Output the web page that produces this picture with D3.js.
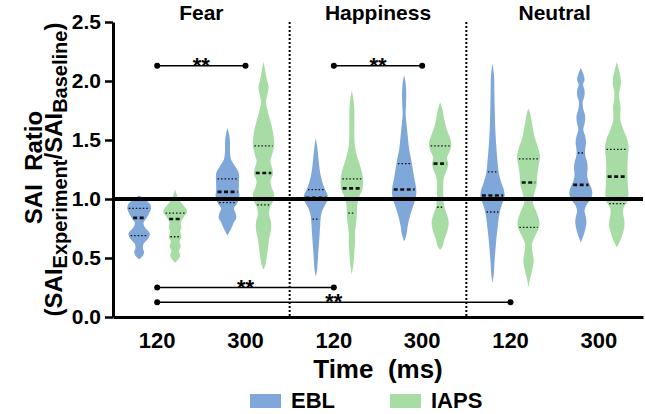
<!DOCTYPE html>
<html>
<head>
<meta charset="utf-8">
<script src="https://cdn.jsdelivr.net/npm/d3@7.9.0/dist/d3.min.js"></script>
<style>
  html, body { margin: 0; padding: 0; background: #fff; }
  svg text { font-family: "Liberation Sans", Arial, sans-serif; font-weight: bold; fill: #000; }
</style>
</head>
<body>
<svg id="chart" width="645" height="414"></svg>
<script>
const emotions = ['Fear', 'Happiness', 'Neutral'];
const times = ['120', '300'];
const series = ['EBL', 'IAPS'];
const yTicks = [0, 0.5, 1.0, 1.5, 2.0, 2.5];
const colors = ['#80a7d9', '#a7dca5'];

// violin outlines: [SAI ratio, relative half width]
const fear120EBL = [[1.03,0],[1.00,0.4],[0.96,0.85],[0.92,0.95],[0.88,0.8],[0.84,0.6],[0.80,0.35],[0.76,0.45],[0.71,0.85],[0.67,0.75],[0.62,0.35],[0.58,0.3],[0.55,0.4],[0.52,0.3],[0.49,0]];
const fear120IAPS = [[1.08,0],[1.04,0.12],[1.00,0.25],[0.96,0.55],[0.92,0.85],[0.89,0.95],[0.85,0.7],[0.80,0.45],[0.76,0.5],[0.72,0.4],[0.68,0.5],[0.64,0.35],[0.60,0.45],[0.56,0.3],[0.52,0.4],[0.49,0.25],[0.46,0]];
const fear300EBL = [[1.60,0],[1.55,0.12],[1.48,0.2],[1.40,0.2],[1.33,0.3],[1.28,0.6],[1.22,0.9],[1.15,0.92],[1.08,0.9],[1.02,0.95],[0.96,0.75],[0.92,0.5],[0.88,0.65],[0.84,0.7],[0.80,0.5],[0.75,0.3],[0.69,0]];
const fear300IAPS = [[2.16,0],[2.10,0.12],[2.02,0.25],[1.95,0.4],[1.88,0.3],[1.83,0.2],[1.76,0.3],[1.68,0.5],[1.60,0.7],[1.52,0.82],[1.45,0.85],[1.38,0.7],[1.32,0.55],[1.26,0.7],[1.21,0.75],[1.15,0.55],[1.10,0.65],[1.04,0.85],[0.98,0.75],[0.92,0.5],[0.87,0.45],[0.80,0.6],[0.74,0.6],[0.66,0.45],[0.58,0.35],[0.50,0.25],[0.44,0.15],[0.40,0]];
const happy120EBL = [[1.52,0],[1.45,0.1],[1.38,0.18],[1.30,0.25],[1.22,0.35],[1.15,0.5],[1.09,0.7],[1.04,0.92],[1.00,0.97],[0.96,0.8],[0.91,0.55],[0.85,0.4],[0.78,0.35],[0.70,0.3],[0.62,0.25],[0.55,0.2],[0.47,0.15],[0.40,0.1],[0.34,0]];
const happy120IAPS = [[1.92,0],[1.85,0.12],[1.75,0.2],[1.65,0.2],[1.55,0.2],[1.45,0.25],[1.37,0.4],[1.30,0.6],[1.22,0.82],[1.15,0.9],[1.08,0.85],[1.02,0.6],[0.96,0.45],[0.88,0.4],[0.80,0.35],[0.72,0.25],[0.62,0.25],[0.52,0.18],[0.44,0.12],[0.36,0]];
const happy300EBL = [[2.05,0],[1.98,0.12],[1.90,0.17],[1.80,0.15],[1.72,0.12],[1.62,0.2],[1.52,0.3],[1.42,0.4],[1.34,0.55],[1.26,0.68],[1.18,0.8],[1.10,0.95],[1.04,0.97],[0.98,0.85],[0.92,0.65],[0.85,0.45],[0.78,0.3],[0.70,0.18],[0.64,0]];
const happy300IAPS = [[1.82,0],[1.76,0.18],[1.68,0.32],[1.60,0.5],[1.52,0.78],[1.46,0.9],[1.40,0.75],[1.35,0.55],[1.30,0.65],[1.25,0.55],[1.18,0.3],[1.10,0.25],[1.02,0.25],[0.95,0.3],[0.88,0.5],[0.81,0.68],[0.74,0.6],[0.66,0.35],[0.60,0.2],[0.57,0]];
const neutral120EBL = [[2.15,0],[2.05,0.12],[1.90,0.15],[1.75,0.18],[1.60,0.22],[1.45,0.3],[1.32,0.4],[1.22,0.5],[1.14,0.7],[1.08,0.9],[1.03,0.97],[0.98,0.85],[0.92,0.65],[0.84,0.5],[0.75,0.4],[0.65,0.3],[0.55,0.22],[0.45,0.15],[0.36,0.1],[0.29,0]];
const neutral120IAPS = [[1.77,0],[1.72,0.15],[1.66,0.25],[1.60,0.35],[1.52,0.5],[1.44,0.75],[1.36,0.92],[1.28,0.8],[1.20,0.7],[1.12,0.65],[1.04,0.45],[0.97,0.35],[0.90,0.6],[0.82,0.85],[0.76,0.85],[0.69,0.55],[0.62,0.28],[0.56,0.3],[0.48,0.42],[0.40,0.3],[0.32,0.12],[0.25,0]];
const neutral300EBL = [[2.11,0],[2.06,0.2],[2.01,0.3],[1.97,0.18],[1.92,0.3],[1.87,0.28],[1.82,0.15],[1.76,0.2],[1.70,0.35],[1.64,0.3],[1.59,0.2],[1.53,0.35],[1.48,0.42],[1.42,0.35],[1.37,0.35],[1.31,0.5],[1.26,0.55],[1.21,0.5],[1.15,0.6],[1.10,0.82],[1.05,0.92],[1.00,0.8],[0.95,0.45],[0.90,0.3],[0.85,0.4],[0.80,0.45],[0.74,0.35],[0.68,0.18],[0.63,0]];
const neutral300IAPS = [[2.16,0],[2.10,0.15],[2.03,0.3],[1.97,0.32],[1.91,0.2],[1.85,0.2],[1.78,0.3],[1.72,0.28],[1.66,0.3],[1.58,0.55],[1.50,0.85],[1.43,0.95],[1.36,0.88],[1.28,0.85],[1.20,0.85],[1.12,0.88],[1.04,0.92],[0.98,0.85],[0.93,0.55],[0.88,0.5],[0.82,0.6],[0.76,0.6],[0.70,0.45],[0.64,0.25],[0.59,0]];

// quartiles [Q1, median, Q3]
const quartiles = {
  'Fear-120-EBL': [0.69, 0.84, 0.92], 'Fear-120-IAPS': [0.68, 0.83, 0.88],
  'Fear-300-EBL': [0.97, 1.06, 1.17], 'Fear-300-IAPS': [0.95, 1.22, 1.45],
  'Happiness-120-EBL': [0.83, 1.01, 1.08], 'Happiness-120-IAPS': [0.88, 1.09, 1.17],
  'Happiness-300-EBL': [0.99, 1.08, 1.30], 'Happiness-300-IAPS': [0.93, 1.30, 1.45],
  'Neutral-120-EBL': [0.89, 1.03, 1.23], 'Neutral-120-IAPS': [0.76, 1.14, 1.34],
  'Neutral-300-EBL': [0.99, 1.12, 1.39], 'Neutral-300-IAPS': [0.96, 1.19, 1.42]
};

// significance bars: from group, to group, y value
const sigFrom = ['Fear-120', 'Happiness-120', 'Fear-120', 'Fear-120'];
const sigTo = ['Fear-300', 'Happiness-300', 'Happiness-120', 'Neutral-120'];
const sigY = [2.13, 2.13, 0.25, 0.125];

const profiles = {
  'Fear-120-EBL': fear120EBL, 'Fear-120-IAPS': fear120IAPS,
  'Fear-300-EBL': fear300EBL, 'Fear-300-IAPS': fear300IAPS,
  'Happiness-120-EBL': happy120EBL, 'Happiness-120-IAPS': happy120IAPS,
  'Happiness-300-EBL': happy300EBL, 'Happiness-300-IAPS': happy300IAPS,
  'Neutral-120-EBL': neutral120EBL, 'Neutral-120-IAPS': neutral120IAPS,
  'Neutral-300-EBL': neutral300EBL, 'Neutral-300-IAPS': neutral300IAPS
};

const groups = emotions.flatMap(e => times.map(t => `${e}-${t}`));

const svg = d3.select('#chart');
const plotLeft = 113, plotRight = 643, plotTop = 22, plotBottom = 317;

const x = d3.scaleBand().domain(groups).range([plotLeft, plotRight]);
const xs = d3.scalePoint().domain(series).range([-18, 18]);
const y = d3.scaleLinear().domain([0, 2.5]).range([plotBottom, plotTop]);
const w = d3.scaleLinear().domain([0, 1]).range([0, 12.5]);
const color = d3.scaleOrdinal().domain(series).range(colors);
const cx = g => x(g) + x.bandwidth() / 2;

// violins
groups.forEach(g => {
  series.forEach(s => {
    const key = `${g}-${s}`;
    const prof = profiles[key];
    const c = cx(g) + xs(s);
    const area = d3.area()
      .curve(d3.curveCatmullRom)
      .y(d => y(d[0]))
      .x0(d => c - w(d[1]))
      .x1(d => c + w(d[1]));
    svg.append('path').attr('d', area(prof)).attr('fill', color(s));

    const half = d3.scaleLinear().domain(prof.map(d => d[0])).range(prof.map(d => d[1]));
    quartiles[key].forEach((q, i) => {
      const hw = w(half(q)) - 1.5;
      svg.append('line')
        .attr('x1', c - hw).attr('x2', c + hw)
        .attr('y1', y(q)).attr('y2', y(q))
        .attr('stroke', '#111')
        .attr('stroke-width', i === 1 ? 2.6 : 1.3)
        .attr('stroke-dasharray', i === 1 ? '4,2.5' : '1.5,2');
    });
  });
});

// reference line at 1.0
svg.append('line')
  .attr('x1', plotLeft).attr('x2', plotRight)
  .attr('y1', y(1)).attr('y2', y(1))
  .attr('stroke', '#000').attr('stroke-width', 4);

// dotted dividers between emotions
emotions.slice(1).forEach(e => {
  const xx = x(`${e}-120`);
  svg.append('line')
    .attr('x1', xx).attr('x2', xx)
    .attr('y1', plotTop).attr('y2', plotBottom)
    .attr('stroke', '#000').attr('stroke-width', 2)
    .attr('stroke-dasharray', '2,2');
});

// emotion titles
emotions.forEach(e => {
  svg.append('text')
    .attr('x', (cx(`${e}-120`) + cx(`${e}-300`)) / 2)
    .attr('y', 20)
    .attr('text-anchor', 'middle')
    .attr('font-size', 21)
    .text(e);
});

// significance bars
sigFrom.forEach((f, i) => {
  const x1 = cx(f), x2 = cx(sigTo[i]), yy = y(sigY[i]);
  svg.append('line').attr('x1', x1).attr('x2', x2).attr('y1', yy).attr('y2', yy)
    .attr('stroke', '#000').attr('stroke-width', 1.5);
  [x1, x2].forEach(xx => svg.append('circle').attr('cx', xx).attr('cy', yy).attr('r', 3));
  svg.append('text')
    .attr('x', (x1 + x2) / 2).attr('y', yy + 7)
    .attr('text-anchor', 'middle').attr('font-size', 22)
    .text('**');
});

// y axis
const yAxis = svg.append('g')
  .attr('transform', `translate(${plotLeft},0)`)
  .call(d3.axisLeft(y).tickValues(yTicks).tickFormat(d3.format('.1f')).tickSize(8).tickPadding(4).tickSizeOuter(0));
yAxis.select('.domain').attr('stroke-width', 3);
yAxis.selectAll('.tick line').attr('stroke-width', 2.5);
yAxis.selectAll('.tick text').attr('font-size', 21).style('font-family', '"Liberation Sans", Arial, sans-serif').style('font-weight', 'bold');

// x axis
const xAxis = svg.append('g')
  .attr('transform', `translate(0,${plotBottom})`)
  .call(d3.axisBottom(x).tickSize(0).tickPadding(15).tickSizeOuter(0).tickFormat(d => d.split('-')[1]));
xAxis.select('.domain').attr('stroke-width', 3);
xAxis.selectAll('.tick text').attr('font-size', 22).style('font-family', '"Liberation Sans", Arial, sans-serif').style('font-weight', 'bold');

// axis titles
svg.append('text')
  .attr('x', (plotLeft + plotRight) / 2).attr('y', 378)
  .attr('text-anchor', 'middle').attr('font-size', 26)
  .text('Time\u00a0\u00a0(ms)');

svg.append('text')
  .attr('transform', `translate(42,${(plotTop + plotBottom) / 2 - 2}) rotate(-90)`)
  .attr('text-anchor', 'middle').attr('font-size', 24)
  .text('SAI\u00a0\u00a0Ratio');

const t2 = svg.append('text')
  .attr('transform', `translate(62,${(plotTop + plotBottom) / 2}) rotate(-90)`)
  .attr('text-anchor', 'middle').attr('font-size', 24);
t2.append('tspan').text('(SAI');
t2.append('tspan').attr('font-size', 20).attr('dy', 5).text('Experiment');
t2.append('tspan').attr('dy', -5).text('/SAI');
t2.append('tspan').attr('font-size', 20).attr('dy', 5).text('Baseline');
t2.append('tspan').attr('dy', -5).text(')');

// legend
const legendX = [250, 390];
series.forEach((s, i) => {
  svg.append('rect').attr('x', legendX[i]).attr('y', 394).attr('width', 31).attr('height', 14).attr('fill', color(s));
  svg.append('text').attr('x', legendX[i] + 41).attr('y', 408).attr('font-size', 22).text(s);
});
</script>
</body>
</html>
